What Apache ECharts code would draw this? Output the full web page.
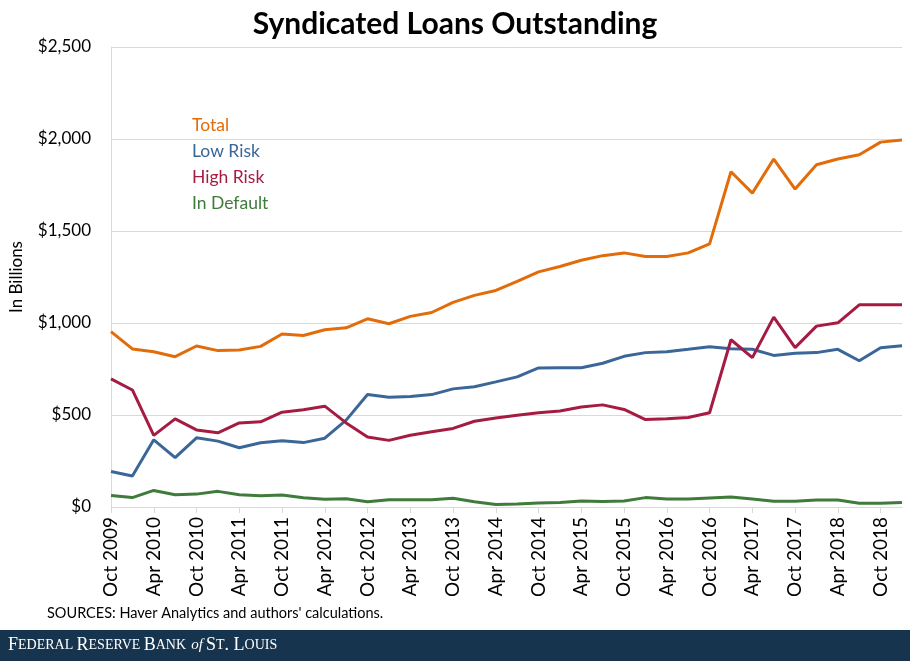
<!DOCTYPE html>
<html>
<head>
<meta charset="utf-8">
<script src="https://cdn.jsdelivr.net/npm/echarts@6/dist/echarts.min.js"></script>
<style>
html,body{margin:0;padding:0;background:#fff;}
#chart{width:910px;height:661px;}
</style>
</head>
<body>
<div id="chart"></div>
<script>
var categories = [
  'Oct 2009','Jan 2010','Apr 2010','Jul 2010','Oct 2010','Jan 2011','Apr 2011','Jul 2011',
  'Oct 2011','Jan 2012','Apr 2012','Jul 2012','Oct 2012','Jan 2013','Apr 2013','Jul 2013',
  'Oct 2013','Jan 2014','Apr 2014','Jul 2014','Oct 2014','Jan 2015','Apr 2015','Jul 2015',
  'Oct 2015','Jan 2016','Apr 2016','Jul 2016','Oct 2016','Jan 2017','Apr 2017','Jul 2017',
  'Oct 2017','Jan 2018','Apr 2018','Jul 2018','Oct 2018','Jan 2019'
];
var total = [953,859,844,817,875,850,853,873,940,932,963,974,1023,996,1036,1057,
  1112,1150,1177,1226,1278,1307,1341,1366,1381,1361,1361,1381,1430,1822,1706,1891,
  1728,1860,1891,1914,1983,1994];
var lowRisk = [193,168,365,268,376,358,322,349,360,350,374,472,611,597,600,611,
  642,654,680,707,756,757,757,781,819,839,844,857,871,860,857,824,
  835,839,857,795,866,877];
var highRisk = [696,636,389,479,419,403,457,463,515,529,548,457,381,362,390,409,
  427,466,484,499,512,522,544,555,530,475,479,486,512,909,812,1032,
  866,983,1001,1099,1099,1099];
var inDefault = [63,51,90,67,70,85,67,61,65,50,42,45,29,40,40,40,
  47,29,13,16,22,25,33,30,33,51,43,43,49,54,43,31,
  31,38,38,20,20,25];
var yTicks = [0, 500, 1000, 1500, 2000, 2500];

var colors = {total:'#e36c0a', low:'#3a6698', high:'#a51c43', def:'#3f7b3a'};
var FONT = 'Lato';

var chart = echarts.init(document.getElementById('chart'));
function fmt(v){ return '$' + v.toLocaleString('en-US'); }
function mkSeries(name, data, color){
  return {name:name, type:'line', data:data, symbol:'none', smooth:false,
    lineStyle:{width:3, color:color}, itemStyle:{color:color}};
}
chart.setOption({
  animation:false,
  textStyle:{fontFamily:FONT},
  title:{text:'Syndicated Loans Outstanding', left:'center', top:4,
    textStyle:{fontFamily:FONT, fontSize:30, fontWeight:'bold', color:'#000'}},
  legend:{orient:'vertical', left:182, top:111, icon:'none', itemWidth:0, itemHeight:17, itemGap:8,
    selectedMode:false,
    textStyle:{fontFamily:FONT, fontSize:17.5, lineHeight:17},
    data:[
      {name:'Total', textStyle:{color:colors.total}},
      {name:'Low Risk', textStyle:{color:colors.low}},
      {name:'High Risk', textStyle:{color:colors.high}},
      {name:'In Default', textStyle:{color:colors.def}}
    ]},
  grid:{left:110, right:8, top:47, bottom:154, containLabel:false},
  xAxis:{type:'category', data:categories, boundaryGap:false,
    axisLine:{lineStyle:{color:'#d9d9d9', width:1}},
    axisTick:{show:true, interval:1, length:6, lineStyle:{color:'#d9d9d9'}},
    axisLabel:{interval:1, rotate:90, margin:10, fontFamily:FONT, fontSize:19, color:'#000'},
    splitLine:{show:false}},
  yAxis:{type:'value', min:yTicks[0], max:yTicks[yTicks.length-1], interval:500,
    name:'In Billions', nameLocation:'middle', nameRotate:90, nameGap:86,
    nameTextStyle:{fontFamily:FONT, fontSize:17, color:'#000'},
    axisLine:{show:true, lineStyle:{color:'#d9d9d9'}},
    axisTick:{show:false},
    axisLabel:{margin:20, fontFamily:FONT, fontSize:17, color:'#000', formatter:fmt},
    splitLine:{lineStyle:{color:'#d9d9d9', width:1}}},
  series:[
    mkSeries('Total', total, colors.total),
    mkSeries('Low Risk', lowRisk, colors.low),
    mkSeries('High Risk', highRisk, colors.high),
    mkSeries('In Default', inDefault, colors.def)
  ],
  graphic:[
    {type:'text', left:47, top:606, style:{text:"SOURCES: Haver Analytics and authors' calculations.",
      fontFamily:FONT, fontSize:14.5, fill:'#000'}},
    {type:'rect', left:0, top:630, shape:{width:910, height:31}, style:{fill:'#17344f'}},
    {type:'text', left:8, top:636, style:{
      text:'{b|F}{s|EDERAL} {b|R}{s|ESERVE} {b|B}{s|ANK} {i|of}{b|S}{s|T}{b|. L}{s|OUIS}',
      fill:'#fff',
      rich:{
        b:{fontFamily:'Liberation Serif', fontSize:18, fill:'#fff'},
        s:{fontFamily:'Liberation Serif', fontSize:14, fill:'#fff'},
        i:{fontFamily:'Liberation Serif', fontSize:15, fontStyle:'italic', fill:'#fff', padding:[0,3,0,2]}
      }}}
  ]
});
</script>
</body>
</html>
